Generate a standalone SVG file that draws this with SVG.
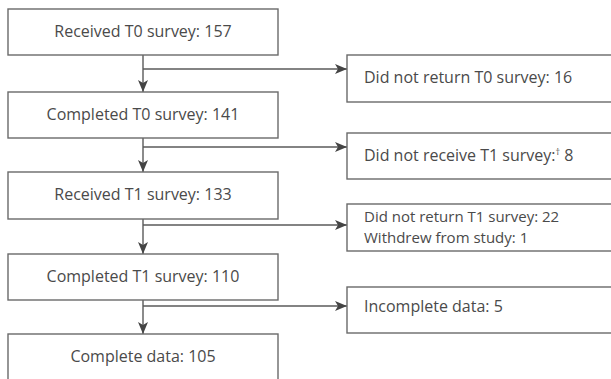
<svg xmlns="http://www.w3.org/2000/svg" width="611" height="379" viewBox="0 0 611 379">
<defs>
<style>
.box{fill:#fff;stroke:#6a6a6a;stroke-width:1.4}
.t{font-family:"Open Sans","Liberation Sans",sans-serif;font-size:16px;fill:#4a4a4a}
.s{font-size:15px}
.c{text-anchor:middle}
.ln{fill:none;stroke:#5a5a5a;stroke-width:1.4}
</style>
<marker id="ah" viewBox="0 0 12 10" refX="12" refY="5" markerWidth="12" markerHeight="10" markerUnits="userSpaceOnUse" orient="auto">
<path d="M0,0 L12,5 L0,10 L3,5 Z" fill="#444"/>
</marker>
</defs>
<rect width="611" height="379" fill="#fff"/>
<g id="connectors">
<path class="ln" d="M143,55 V92" marker-end="url(#ah)"/>
<path class="ln" d="M143,69 H347" marker-end="url(#ah)"/>
<path class="ln" d="M143,138 V172" marker-end="url(#ah)"/>
<path class="ln" d="M143,147 H347" marker-end="url(#ah)"/>
<path class="ln" d="M143,219 V254" marker-end="url(#ah)"/>
<path class="ln" d="M143,225 H347" marker-end="url(#ah)"/>
<path class="ln" d="M143,300 V334" marker-end="url(#ah)"/>
<path class="ln" d="M143,306 H347" marker-end="url(#ah)"/>
</g>
<g id="n1"><rect class="box" x="8" y="9" width="270" height="46"/><text class="t c" x="143" y="37">Received T0 survey: 157</text></g>
<g id="n2"><rect class="box" x="8" y="92" width="270" height="46"/><text class="t c" x="143" y="120">Completed T0 survey: 141</text></g>
<g id="n3"><rect class="box" x="8" y="172" width="270" height="47"/><text class="t c" x="143" y="200">Received T1 survey: 133</text></g>
<g id="n4"><rect class="box" x="8" y="254" width="270" height="46"/><text class="t c" x="143" y="282">Completed T1 survey: 110</text></g>
<g id="n5"><rect class="box" x="8" y="334" width="270" height="60"/><text class="t c" x="143" y="362">Complete data: 105</text></g>
<g id="r1"><rect class="box" x="347" y="55" width="280" height="47"/><text class="t" x="364" y="83">Did not return T0 survey: 16</text></g>
<g id="r2"><rect class="box" x="347" y="133" width="280" height="46"/><text class="t" x="364" y="161">Did not receive T1 survey:<tspan font-size="9" dy="-6">†</tspan><tspan dy="6"> 8</tspan></text></g>
<g id="r3"><rect class="box" x="347" y="204" width="280" height="47"/><text class="t s" x="364" y="222">Did not return T1 survey: 22</text><text class="t s" x="364" y="242.5">Withdrew from study: 1</text></g>
<g id="r4"><rect class="box" x="347" y="287" width="280" height="46"/><text class="t" x="364" y="312">Incomplete data: 5</text></g>
</svg>
